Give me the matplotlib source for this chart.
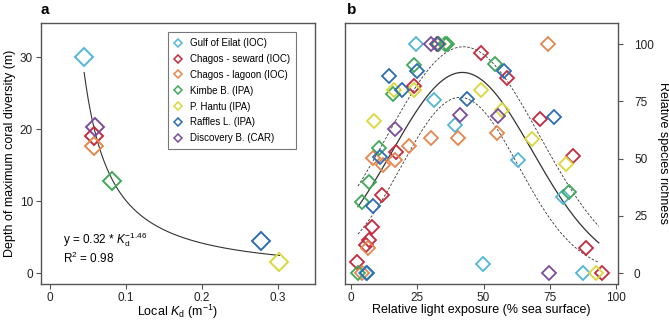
import numpy as np
import matplotlib
matplotlib.use("Agg")
import matplotlib.pyplot as plt
from matplotlib.lines import Line2D

plt.rcParams['font.family'] = ['Liberation Sans', 'DejaVu Sans']
plt.rcParams['mathtext.fontset'] = 'custom'
plt.rcParams['mathtext.rm'] = 'Liberation Sans'
plt.rcParams['mathtext.it'] = 'Liberation Sans:italic'

# sites and colours
sites = ['Gulf of Eilat (IOC)', 'Chagos - seward (IOC)', 'Chagos - lagoon (IOC)',
         'Kimbe B. (IPA)', 'P. Hantu (IPA)', 'Raffles L. (IPA)', 'Discovery B. (CAR)']
colors = ['#52B6D8', '#C62A3E', '#E6854C', '#3FA85A', '#D8D83A', '#2C6DB2', '#7B4C9C']

# panel a: local Kd vs depth of max diversity
kd = [0.045, 0.058, 0.058, 0.081, 0.302, 0.278, 0.059]
depth = [30.0, 19.1, 17.7, 12.8, 1.6, 4.5, 20.3]
# power fit (as drawn)
fit_a, fit_b = 0.538, -1.273
fit_xmin, fit_xmax = 0.045, 0.302

# panel b: relative light exposure vs relative species richness
light_eilat = [24.6, 31.2, 39.2, 62.9, 79.8, 49.8, 87.6, 5.5]
rich_eilat = [100, 75.7, 64.5, 49.5, 33.1, 4.2, 0.3, 0.3]
light_seward = [32.3, 49.0, 59.0, 23.6, 16.9, 71.3, 83.6, 11.6, 8.0, 6.8, 5.5, 2.3, 88.6, 94.8]
rich_seward = [100, 96, 85, 81.5, 53, 67.3, 51.2, 34, 20, 14.7, 12.3, 5, 10.9, 0.3]
light_lagoon = [74.4, 30.2, 40.5, 55.1, 22.0, 8.2, 16.4, 12.2, 6.3, 4.0]
rich_lagoon = [100, 59, 59, 61.3, 55.7, 50.1, 49.2, 47.3, 11, 0]
light_kimbe = [35.6, 36.2, 23.9, 54.5, 15.7, 10.5, 6.7, 4.3, 82.2, 2.7]
rich_kimbe = [100, 100, 90.9, 91.2, 78.3, 54.5, 39.8, 31, 35.6, 0.3]
light_hantu = [33.3, 23.7, 16.1, 48.9, 57.1, 8.8, 68.4, 81.0, 92.4]
rich_hantu = [100, 79.8, 80, 80, 71, 66.6, 58.6, 47.5, 0.3]
light_raffles = [32.8, 25.0, 57.7, 14.3, 19.1, 43.6, 76.6, 10.9, 8.1, 6.0]
rich_raffles = [100, 88.2, 88.4, 86, 79.8, 76, 68.1, 50.9, 29.5, 0]
light_discovery = [30.2, 16.5, 41.0, 55.3, 74.7]
rich_discovery = [100, 62.9, 68.9, 68.6, 0.3]

light_all = [light_eilat, light_seward, light_lagoon, light_kimbe, light_hantu, light_raffles, light_discovery]
rich_all = [rich_eilat, rich_seward, rich_lagoon, rich_kimbe, rich_hantu, rich_raffles, rich_discovery]

# gaussian fit + bounds (peak height, centre, width)
gauss_fit = (87.6, 42.0, 26.5)
gauss_upper = (98.8, 42.4, 28.8)
gauss_lower = (76.7, 41.1, 22.2)
gauss_xmin, gauss_xmax = 2.6, 93.5

spine_col = '#555555'
fig = plt.figure(figsize=(6.69, 3.21), dpi=100)
ax1 = fig.add_axes([0.0608, 0.1153, 0.41, 0.814])
ax2 = fig.add_axes([0.5157, 0.1153, 0.4081, 0.814])

for ax in (ax1, ax2):
    for s in ax.spines.values():
        s.set_color(spine_col)
        s.set_linewidth(1.0)
    ax.tick_params(direction='out', length=3.5, width=0.8, color=spine_col,
                   labelsize=8.5, labelcolor='#222222', pad=2)

# ---- panel a
xx = np.linspace(fit_xmin, fit_xmax, 200)
ax1.plot(xx, fit_a * xx ** fit_b, color='#333333', lw=0.8, zorder=1)
for i in range(len(sites)):
    ax1.plot(kd[i], depth[i], 'D', ms=9, mfc='none', mec=colors[i], mew=1.4, zorder=2)

ax1.set_xlim(-0.0122, 0.3487)
ax1.set_ylim(-1.5, 34.8)
ax1.set_xticks([0, 0.1, 0.2, 0.3])
ax1.set_xticklabels(['0', '0.1', '0.2', '0.3'])
ax1.set_yticks([0, 10, 20, 30])
ax1.set_xlabel(r'Local $K_\mathrm{d}$ (m$^{-1}$)', fontsize=9, labelpad=-0.5)
ax1.set_ylabel('Depth of maximum coral diversity (m)', fontsize=9, labelpad=3)
ax1.text(0.0175, 4.7, r'y = 0.32 * $K_\mathrm{d}^{-1.46}$', fontsize=8.5, va='center')
ax1.text(0.0175, 2.0, r'R$^2$ = 0.98', fontsize=8.5, va='center')

handles = [Line2D([], [], ls='none', marker='D', ms=4.5, mfc='none', mec=c, mew=1.1)
           for c in colors]
leg = ax1.legend(handles, sites, loc='upper right', bbox_to_anchor=(0.931, 0.963),
                 fontsize=7, frameon=True, fancybox=False, framealpha=1,
                 edgecolor='#777777', labelspacing=0.6, handlelength=1.0,
                 handletextpad=0.7, borderpad=0.6, borderaxespad=0)
leg.get_frame().set_linewidth(0.8)

# ---- panel b
gx = np.linspace(gauss_xmin, gauss_xmax, 200)
for (amp, mu, sd), ls in ((gauss_fit, '-'), (gauss_upper, (0, (3, 2))), (gauss_lower, (0, (3, 2)))):
    ax2.plot(gx, amp * np.exp(-(gx - mu) ** 2 / (2 * sd ** 2)), color='#333333',
             lw=0.9 if ls == '-' else 0.6, ls=ls, zorder=1)
for i in range(len(sites)):
    ax2.plot(light_all[i], rich_all[i], 'D', ms=7, mfc='none', mec=colors[i], mew=1.3,
             ls='none', zorder=2)

ax2.set_xlim(-2.3, 100.75)
ax2.set_ylim(-4.7, 109.3)
ax2.set_xticks([0, 25, 50, 75, 100])
ax2.set_yticks([0, 25, 50, 75, 100])
ax2.yaxis.tick_right()
ax2.yaxis.set_label_position('right')
ax2.tick_params(axis='y', pad=8)
ax2.set_xlabel('Relative light exposure (% sea surface)', fontsize=9, labelpad=0)
ax2.set_ylabel('Relative species richness', fontsize=9, rotation=270, labelpad=11)

fig.text(0.067, 0.968, 'a', fontsize=11, fontweight='bold', ha='center', va='center')
fig.text(0.525, 0.968, 'b', fontsize=11, fontweight='bold', ha='center', va='center')

fig.savefig('out.png', dpi=100)
